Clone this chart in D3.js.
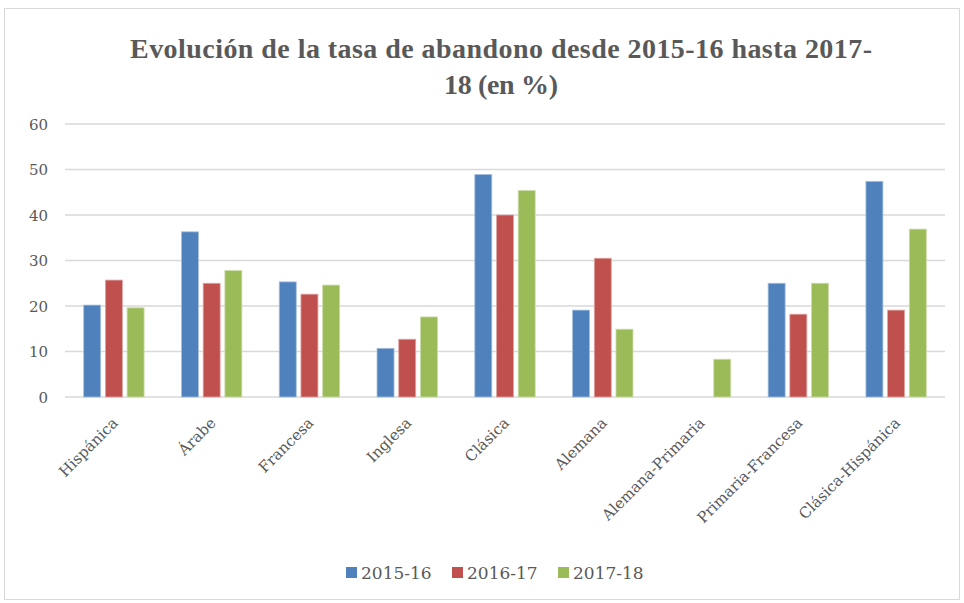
<!DOCTYPE html>
<html><head><meta charset="utf-8">
<script src="https://cdn.jsdelivr.net/npm/d3@7"></script>
<style>body{margin:0;background:#fff}svg{display:block}</style>
</head><body>
<script>
const categories = ["Hispánica","Árabe","Francesa","Inglesa","Clásica","Alemana","Alemana-Primaria","Primaria-Francesa","Clásica-Hispánica"];
const series = ["2015-16","2016-17","2017-18"];
const v2015 = [20.2,36.3,25.3,10.7,48.9,19.1,null,25.0,47.4];
const v2016 = [25.7,25.0,22.6,12.7,40.0,30.5,null,18.2,19.1];
const v2017 = [19.6,27.8,24.6,17.6,45.4,14.9,8.3,25.0,36.9];
const yTicks = [0,10,20,30,40,50,60];
const colors = ["#4f81bd","#c0504d","#9bbb59"];
const strokes = ["#a7c0de","#dfa8a6","#cddcac"];
const values = [v2015,v2016,v2017];

const W=964,H=603;
const svg=d3.select("body").append("svg").attr("width",W).attr("height",H);
svg.append("rect").attr("x",4.5).attr("y",8.5).attr("width",955).attr("height",591).attr("fill","#fff").attr("stroke","#d9d9d9");

const font="'Liberation Serif', serif";
const sfont="'DejaVu Serif', serif";
const x=d3.scaleBand().domain(categories).range([65,945]);
const y=d3.scaleLinear().domain([0,60]).range([397,124]);

svg.append("text").attr("x",501).attr("y",58).attr("text-anchor","middle").attr("fill","#595959").attr("font-family",font).attr("font-weight","bold").attr("font-size",28)
  .attr("textLength",742).attr("lengthAdjust","spacing")
  .text("Evolución de la tasa de abandono desde 2015-16 hasta 2017-");
svg.append("text").attr("x",501).attr("y",94).attr("text-anchor","middle").attr("fill","#595959").attr("font-family",font).attr("font-weight","bold").attr("font-size",28)
  .attr("textLength",114).attr("lengthAdjust","spacing")
  .text("18 (en %)");

svg.append("g").selectAll("line").data(yTicks).join("line")
 .attr("x1",65).attr("x2",945).attr("y1",d=>y(d)).attr("y2",d=>y(d))
 .attr("stroke","#d9d9d9").attr("stroke-width",1.5);

svg.append("g").selectAll("text").data(yTicks).join("text")
 .attr("x",48).attr("y",d=>y(d)+5.5).attr("text-anchor","end")
 .attr("fill","#595959").attr("font-family",sfont).attr("font-size",15).text(d=>d);

const step=21.7, bw=17;
series.forEach((s,i)=>{
  svg.append("g").selectAll("rect").data(categories.map((c,j)=>({c,v:values[i][j]})).filter(d=>d.v!=null)).join("rect")
   .attr("x",d=>x(d.c)+x.bandwidth()/2+(i-1)*step-bw/2)
   .attr("y",d=>y(d.v)).attr("width",bw).attr("height",d=>y(0)-y(d.v))
   .attr("fill",colors[i]).attr("stroke",strokes[i]).attr("stroke-width",0.8);
});

svg.append("g").selectAll("text").data(categories).join("text")
 .attr("transform",d=>`translate(${x(d)+x.bandwidth()/2+5},${424}) rotate(-45)`)
 .attr("text-anchor","end").attr("fill","#595959").attr("font-family",sfont).attr("font-size",15).text(d=>d);

const lx=[346,452,558];
series.forEach((s,i)=>{
  svg.append("rect").attr("x",lx[i]).attr("y",567).attr("width",11).attr("height",11).attr("fill",colors[i]);
  svg.append("text").attr("x",lx[i]+15).attr("y",579).attr("fill","#595959").attr("font-family",sfont).attr("font-size",17).text(s);
});
</script>
</body></html>
